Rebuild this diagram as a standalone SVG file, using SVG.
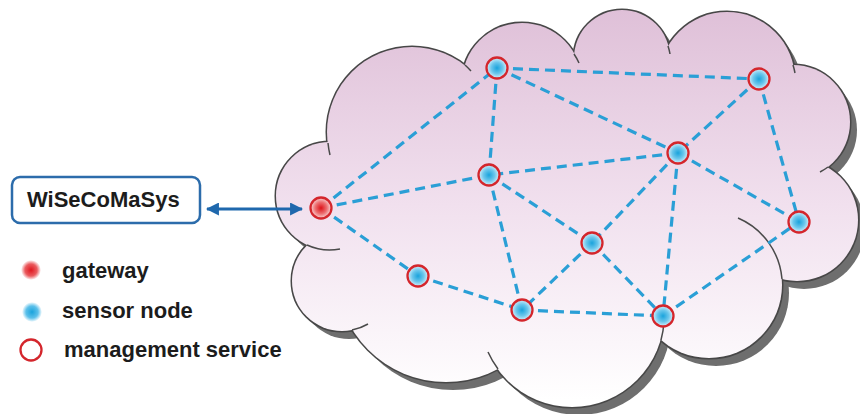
<svg xmlns="http://www.w3.org/2000/svg" width="860" height="414" viewBox="0 0 860 414">
<style>
.txt{font-family:"Liberation Sans",Arial,sans-serif;font-weight:bold;font-size:22px;fill:#1c1c1c}
.link{stroke:#2a9fd6;stroke-width:3.2;stroke-dasharray:10 6;fill:none}
.ring{stroke:#d4262c;stroke-width:2.3}
.tail{fill:none;stroke:#4a4a4a;stroke-width:1.5}
</style>
<defs>
<linearGradient id="cloudGrad" gradientUnits="userSpaceOnUse" x1="0" y1="10" x2="0" y2="400">
<stop offset="0" stop-color="#dfc0d8"/>
<stop offset="0.5" stop-color="#f1e0ee"/>
<stop offset="1" stop-color="#ffffff"/>
</linearGradient>
<radialGradient id="blueGrad">
<stop offset="0" stop-color="#1aa3dc"/>
<stop offset="0.55" stop-color="#6cc7ec"/>
<stop offset="1" stop-color="#d9f1fb"/>
</radialGradient>
<radialGradient id="redGrad">
<stop offset="0" stop-color="#dd1219"/>
<stop offset="0.55" stop-color="#ec6e70"/>
<stop offset="1" stop-color="#fadada"/>
</radialGradient>
<radialGradient id="redDot">
<stop offset="0" stop-color="#e0161e"/>
<stop offset="0.6" stop-color="#ea5a5e"/>
<stop offset="1" stop-color="#ea5a5e" stop-opacity="0"/>
</radialGradient>
<radialGradient id="blueDot">
<stop offset="0" stop-color="#1aa3dc"/>
<stop offset="0.6" stop-color="#5cc0ea"/>
<stop offset="1" stop-color="#5cc0ea" stop-opacity="0"/>
</radialGradient>
<filter id="soft" x="-10%" y="-10%" width="120%" height="120%"><feGaussianBlur stdDeviation="0.7"/></filter>
<marker id="ah" viewBox="0 0 12 12" refX="11" refY="6" markerWidth="13" markerHeight="13" markerUnits="userSpaceOnUse" orient="auto-start-reverse">
<path d="M0,0 L12,6 L0,12 Z" fill="#1f68ad"/>
</marker>
<g id="cloudShape">
<circle cx="330" cy="196" r="54"/>
<circle cx="412" cy="132" r="85"/>
<circle cx="522" cy="83" r="60"/>
<circle cx="622" cy="58" r="48"/>
<circle cx="727" cy="80" r="68"/>
<circle cx="793" cy="122" r="57"/>
<circle cx="797" cy="220" r="61"/>
<circle cx="709" cy="285" r="73"/>
<circle cx="572" cy="315" r="92"/>
<circle cx="446" cy="272" r="110"/>
<circle cx="342" cy="281" r="50"/>
<polygon points="330,150 465,68 575,56 668,50 790,70 825,170 782,276 660,336 498,364 355,326 310,244"/>
</g>
</defs>

<g id="cloud">
<use href="#cloudShape" transform="translate(7,8)" fill="#6e6e6e" filter="url(#soft)"/>
<use href="#cloudShape" fill="none" stroke="#474747" stroke-width="3"/>
<use href="#cloudShape" fill="url(#cloudGrad)" stroke="none"/>
<path class="tail" d="M328,143 A85,85 0 0 0 330,155"/>
<path class="tail" d="M465,65 A85,85 0 0 1 471,71"/>
<path class="tail" d="M574,54 A60,60 0 0 1 579,63"/>
<path class="tail" d="M668,46 A48,48 0 0 1 670,54"/>
<path class="tail" d="M793,65 A68,68 0 0 1 795,73"/>
<path class="tail" d="M828,167 A57,57 0 0 1 820,172"/>
<path class="tail" d="M782,279 A73,73 0 0 0 738,218"/>
<path class="tail" d="M661,340 A92,92 0 0 0 664,322"/>
<path class="tail" d="M498,369 A92,92 0 0 1 488,352"/>
<path class="tail" d="M352,330 A50,50 0 0 0 368,324"/>
<path class="tail" d="M307,245 A54,54 0 0 0 340,249"/>
</g>

<g id="connectors">
<line class="link" x1="321" y1="208" x2="497" y2="68"/>
<line class="link" x1="321" y1="208" x2="489" y2="175"/>
<line class="link" x1="321" y1="208" x2="418" y2="276"/>
<line class="link" x1="497" y1="68" x2="759" y2="79"/>
<line class="link" x1="497" y1="68" x2="678" y2="153"/>
<line class="link" x1="497" y1="68" x2="489" y2="175"/>
<line class="link" x1="759" y1="79" x2="678" y2="153"/>
<line class="link" x1="759" y1="79" x2="799" y2="222"/>
<line class="link" x1="678" y1="153" x2="489" y2="175"/>
<line class="link" x1="678" y1="153" x2="592" y2="243"/>
<line class="link" x1="678" y1="153" x2="663" y2="316"/>
<line class="link" x1="678" y1="153" x2="799" y2="222"/>
<line class="link" x1="489" y1="175" x2="592" y2="243"/>
<line class="link" x1="489" y1="175" x2="522" y2="310"/>
<line class="link" x1="592" y1="243" x2="522" y2="310"/>
<line class="link" x1="592" y1="243" x2="663" y2="316"/>
<line class="link" x1="418" y1="276" x2="522" y2="310"/>
<line class="link" x1="522" y1="310" x2="663" y2="316"/>
<line class="link" x1="663" y1="316" x2="799" y2="222"/>
<line x1="207" y1="209" x2="302" y2="209" stroke="#1f68ad" stroke-width="3" marker-start="url(#ah)" marker-end="url(#ah)"/>
</g>

<g id="node-gateway"><circle class="ring" cx="321" cy="208" r="10.5" fill="url(#redGrad)"/></g>
<g id="node-A"><circle class="ring" cx="497" cy="68" r="10.5" fill="url(#blueGrad)"/></g>
<g id="node-B"><circle class="ring" cx="759" cy="79" r="10.5" fill="url(#blueGrad)"/></g>
<g id="node-C"><circle class="ring" cx="678" cy="153" r="10.5" fill="url(#blueGrad)"/></g>
<g id="node-D"><circle class="ring" cx="489" cy="175" r="10.5" fill="url(#blueGrad)"/></g>
<g id="node-E"><circle class="ring" cx="799" cy="222" r="10.5" fill="url(#blueGrad)"/></g>
<g id="node-F"><circle class="ring" cx="592" cy="243" r="10.5" fill="url(#blueGrad)"/></g>
<g id="node-G"><circle class="ring" cx="418" cy="276" r="10.5" fill="url(#blueGrad)"/></g>
<g id="node-H"><circle class="ring" cx="522" cy="310" r="10.5" fill="url(#blueGrad)"/></g>
<g id="node-I"><circle class="ring" cx="663" cy="316" r="10.5" fill="url(#blueGrad)"/></g>

<g id="wisecomasys">
<rect x="12" y="177" width="188" height="46" rx="8" fill="#ffffff" stroke="#2c6cab" stroke-width="2.5"/>
<text class="txt" x="27" y="207">WiSeCoMaSys</text>
</g>

<g id="legend">
<circle cx="31" cy="270" r="10" fill="url(#redDot)"/>
<text class="txt" x="62" y="278">gateway</text>
<circle cx="32" cy="312" r="10" fill="url(#blueDot)"/>
<text class="txt" x="62" y="318">sensor node</text>
<circle cx="31" cy="350" r="10.5" fill="none" stroke="#d4262c" stroke-width="2.3"/>
<text class="txt" x="64" y="357">management service</text>
</g>
</svg>
